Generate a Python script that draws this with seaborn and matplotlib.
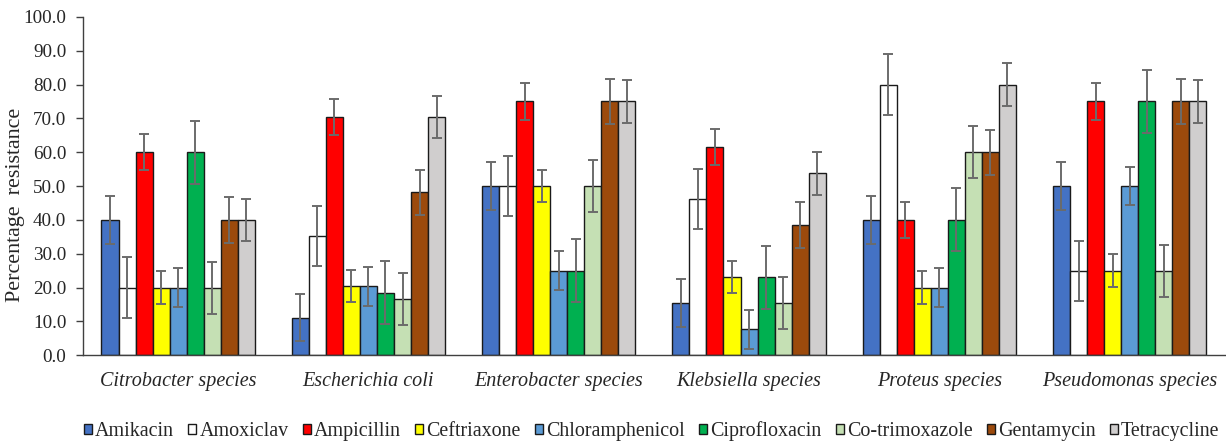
import numpy as np
import pandas as pd
import matplotlib
matplotlib.use("Agg")
import matplotlib.pyplot as plt
import seaborn as sns
from matplotlib.ticker import FixedLocator, FormatStrFormatter
from matplotlib.font_manager import FontProperties

species = ["Citrobacter species", "Escherichia coli", "Enterobacter species",
           "Klebsiella species", "Proteus species", "Pseudomonas species"]
antibiotics = ["Amikacin", "Amoxiclav", "Ampicillin", "Ceftriaxone", "Chloramphenicol",
               "Ciprofloxacin", "Co-trimoxazole", "Gentamycin", "Tetracycline"]
colors = ["#4472C4", "#FFFFFF", "#FF0000", "#FFFF00", "#5B9BD5",
          "#00B050", "#C5E0B4", "#9C4A0C", "#D0CECE"]

amikacin = [40.0, 11.1, 50.0, 15.4, 40.0, 50.0]
amoxiclav = [20.0, 35.2, 50.0, 46.2, 80.0, 25.0]
ampicillin = [60.0, 70.4, 75.0, 61.5, 40.0, 75.0]
ceftriaxone = [20.0, 20.4, 50.0, 23.1, 20.0, 25.0]
chloramphenicol = [20.0, 20.4, 25.0, 7.7, 20.0, 50.0]
ciprofloxacin = [60.0, 18.5, 25.0, 23.1, 40.0, 75.0]
cotrimoxazole = [20.0, 16.7, 50.0, 15.4, 60.0, 25.0]
gentamycin = [40.0, 48.1, 75.0, 38.5, 60.0, 75.0]
tetracycline = [40.0, 70.4, 75.0, 53.8, 80.0, 75.0]

# error bar half-widths per antibiotic
errors = [7.0, 8.9, 5.4, 4.8, 5.7, 9.3, 7.7, 6.7, 6.3]

series = [amikacin, amoxiclav, ampicillin, ceftriaxone, chloramphenicol,
          ciprofloxacin, cotrimoxazole, gentamycin, tetracycline]

rows = []
for ab, vals in zip(antibiotics, series):
    for sp, v in zip(species, vals):
        rows.append({"species": sp, "antibiotic": ab, "value": v})
df = pd.DataFrame(rows)

sns.set_theme(style="white")
plt.rcParams["font.family"] = ["Liberation Serif", "DejaVu Serif"]
plt.rcParams["font.serif"] = ["Liberation Serif", "DejaVu Serif"]

fig = plt.figure(figsize=(12.26, 4.43), dpi=100)
ax = fig.add_axes([0.0677, 0.198, 0.9313, 0.764])

sns.barplot(data=df, x="species", y="value", hue="antibiotic", order=species,
            hue_order=antibiotics, palette=colors, edgecolor="#1a1a1a",
            linewidth=1.0, errorbar=None, width=0.806, ax=ax, saturation=1)

for cont, err in zip(ax.containers, errors):
    xs = [b.get_x() + b.get_width() / 2 for b in cont]
    hs = [b.get_height() for b in cont]
    ax.errorbar(xs, hs, yerr=err, fmt="none", ecolor="#6b6b6b",
                elinewidth=1.4, capsize=3.5, capthick=1.4, zorder=5)

ax.set_xlim(-0.5, len(species) - 0.5)
ax.set_ylim(0, 100)
ax.yaxis.set_major_locator(FixedLocator(np.arange(0, 101, 10)))
ax.yaxis.set_major_formatter(FormatStrFormatter("%.1f"))
ax.set_xlabel("")
ax.set_ylabel("Percentage  resistance", fontsize=15.8)
ax.yaxis.set_label_coords(-0.0505, 0.445)

ax.set_xticks(range(len(species)))
ax.set_xticklabels(species, fontsize=14.5, style="italic")
ax.set_xticks(np.arange(-0.5, len(species), 1.0), minor=True)
ax.tick_params(axis="x", which="major", length=0, pad=12)
ax.tick_params(axis="x", which="minor", length=5, width=1, color="#404040", direction="out")
ax.tick_params(axis="y", which="major", length=5, width=1, color="#404040",
               direction="out", labelsize=13.8, pad=7, left=True)

for s in ["top", "right"]:
    ax.spines[s].set_visible(False)
for s in ["left", "bottom"]:
    ax.spines[s].set_color("#404040")
    ax.spines[s].set_linewidth(1.0)

legend_font = FontProperties(family="Liberation Serif", size=14.4)
handles, labels = ax.get_legend_handles_labels()
old = ax.get_legend()
if old is not None:
    old.remove()
leg = ax.legend(handles, labels, loc="center", bbox_to_anchor=(0.498, -0.224), ncol=9,
                frameon=False, prop=legend_font,
                handlelength=0.42, handleheight=0.42, handletextpad=0.15,
                columnspacing=0.7, borderaxespad=0)
for t in leg.get_texts():
    t.set_fontproperties(legend_font)

fig.savefig("out.png", dpi=100)
